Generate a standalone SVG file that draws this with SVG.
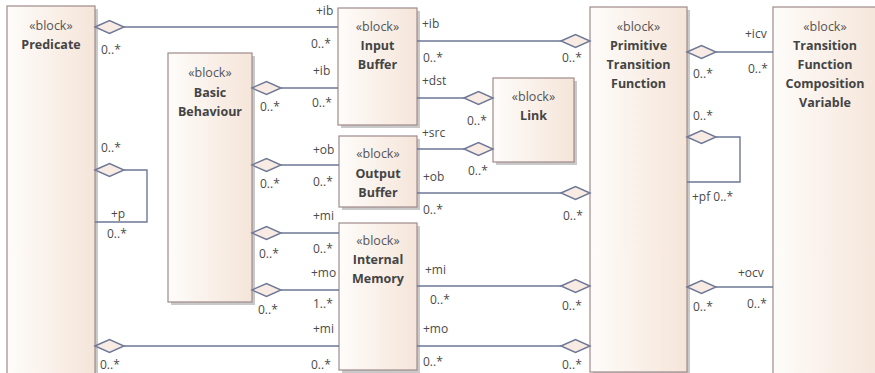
<svg xmlns="http://www.w3.org/2000/svg" width="875" height="373" viewBox="0 0 875 373">
<defs>
<linearGradient id="bg" x1="0" y1="0" x2="1" y2="0">
<stop offset="0" stop-color="#fefcfa"/>
<stop offset="1" stop-color="#f5e5d9"/>
</linearGradient>
<path id="dia" d="M0,0 L14.5,-6.5 L29,0 L14.5,6.5 Z"/>
</defs>
<style>
.blk{fill:url(#bg);stroke:#a08a8a;stroke-width:1.2}
.shd{fill:#c9c9c9}
.st{font-family:"Open Sans","Noto Sans",sans-serif;font-size:12.5px;fill:#555;text-anchor:middle}
.nm{font-family:"Open Sans","Noto Sans",sans-serif;font-size:12.5px;font-weight:bold;fill:#444;text-anchor:middle}
.lb{font-family:"Open Sans","Noto Sans",sans-serif;font-size:12px;fill:#4a4a4a}
.ln{fill:none;stroke:#6e7896;stroke-width:1.4}
.dm{fill:#f8ebe4;stroke:#6e7896;stroke-width:1.4}
</style>
<rect width="875" height="373" fill="#fff"/>

<g id="predicate">
<rect class="shd" x="10" y="9" width="88" height="380"/>
<rect class="blk" x="7" y="6" width="88" height="380"/>
<text class="st" x="51" y="30">«block»</text>
<text class="nm" x="51" y="49">Predicate</text>
</g>
<g id="basic-behaviour">
<rect class="shd" x="171" y="56" width="84" height="249"/>
<rect class="blk" x="168" y="53" width="84" height="249"/>
<text class="st" x="210" y="77">«block»</text>
<text class="nm" x="210" y="97">Basic</text>
<text class="nm" x="210" y="116">Behaviour</text>
</g>
<g id="input-buffer">
<rect class="shd" x="341" y="11" width="79" height="117"/>
<rect class="blk" x="338" y="8" width="79" height="117"/>
<text class="st" x="377.5" y="31">«block»</text>
<text class="nm" x="377.5" y="50">Input</text>
<text class="nm" x="377.5" y="69">Buffer</text>
</g>
<g id="link">
<rect class="shd" x="496" y="81" width="81" height="84"/>
<rect class="blk" x="493" y="78" width="81" height="84"/>
<text class="st" x="533.5" y="101">«block»</text>
<text class="nm" x="533.5" y="120">Link</text>
</g>
<g id="output-buffer">
<rect class="shd" x="342" y="139" width="78" height="71"/>
<rect class="blk" x="339" y="136" width="78" height="71"/>
<text class="st" x="378" y="158">«block»</text>
<text class="nm" x="378" y="178">Output</text>
<text class="nm" x="378" y="197">Buffer</text>
</g>
<g id="internal-memory">
<rect class="shd" x="342" y="226" width="78" height="147"/>
<rect class="blk" x="339" y="223" width="78" height="147"/>
<text class="st" x="378" y="245">«block»</text>
<text class="nm" x="378" y="264">Internal</text>
<text class="nm" x="378" y="283">Memory</text>
</g>
<g id="primitive-transition-function">
<rect class="shd" x="593" y="10" width="97" height="365"/>
<rect class="blk" x="590" y="7" width="97" height="365"/>
<text class="st" x="638.5" y="31">«block»</text>
<text class="nm" x="638.5" y="50">Primitive</text>
<text class="nm" x="638.5" y="69">Transition</text>
<text class="nm" x="638.5" y="88">Function</text>
</g>
<g id="transition-function-composition-variable">
<rect class="blk" x="773" y="7" width="110" height="380"/>
<text class="st" x="825" y="31">«block»</text>
<text class="nm" x="825" y="50">Transition</text>
<text class="nm" x="825" y="69">Function</text>
<text class="nm" x="825" y="88">Composition</text>
<text class="nm" x="825" y="107">Variable</text>
</g>

<g id="connectors">
<path class="ln" d="M124,27 H338 M281,88 H338 M417,41 H561 M417,98 H464 M417,149 H464 M281,165 H339 M417,193 H561 M281,233 H339 M281,290 H339 M124,346 H339 M417,286 H561 M417,346 H561 M124,170 H147 V222 H95 M716,52 H773 M716,137 H740 V182 H687 M716,287 H773"/>
<use href="#dia" class="dm" x="95" y="27"/>
<use href="#dia" class="dm" x="252" y="88"/>
<use href="#dia" class="dm" x="561" y="41"/>
<use href="#dia" class="dm" x="464" y="98"/>
<use href="#dia" class="dm" x="464" y="149"/>
<use href="#dia" class="dm" x="252" y="165"/>
<use href="#dia" class="dm" x="561" y="193"/>
<use href="#dia" class="dm" x="252" y="233"/>
<use href="#dia" class="dm" x="252" y="290"/>
<use href="#dia" class="dm" x="95" y="346"/>
<use href="#dia" class="dm" x="561" y="286"/>
<use href="#dia" class="dm" x="561" y="346"/>
<use href="#dia" class="dm" x="95" y="170"/>
<use href="#dia" class="dm" x="687" y="52"/>
<use href="#dia" class="dm" x="687" y="137"/>
<use href="#dia" class="dm" x="687" y="287"/>

<text class="lb" x="101" y="54">0..*</text>
<text class="lb" x="316" y="15">+ib</text>
<text class="lb" x="311" y="48">0..*</text>
<text class="lb" x="313" y="75">+ib</text>
<text class="lb" x="312" y="107">0..*</text>
<text class="lb" x="260" y="111">0..*</text>
<text class="lb" x="422" y="28">+ib</text>
<text class="lb" x="423" y="62">0..*</text>
<text class="lb" x="562" y="62">0..*</text>
<text class="lb" x="422" y="85">+dst</text>
<text class="lb" x="467" y="125">0..*</text>
<text class="lb" x="422" y="137">+src</text>
<text class="lb" x="468" y="175">0..*</text>
<text class="lb" x="313" y="154">+ob</text>
<text class="lb" x="313" y="186">0..*</text>
<text class="lb" x="260" y="188">0..*</text>
<text class="lb" x="423" y="181">+ob</text>
<text class="lb" x="423" y="214">0..*</text>
<text class="lb" x="563" y="220">0..*</text>
<text class="lb" x="313" y="220">+mi</text>
<text class="lb" x="313" y="253">0..*</text>
<text class="lb" x="259" y="258">0..*</text>
<text class="lb" x="311" y="277">+mo</text>
<text class="lb" x="313" y="308">1..*</text>
<text class="lb" x="258" y="314">0..*</text>
<text class="lb" x="313" y="333">+mi</text>
<text class="lb" x="311" y="369">0..*</text>
<text class="lb" x="100" y="369">0..*</text>
<text class="lb" x="425" y="274">+mi</text>
<text class="lb" x="430" y="304">0..*</text>
<text class="lb" x="562" y="310">0..*</text>
<text class="lb" x="423" y="333">+mo</text>
<text class="lb" x="423" y="366">0..*</text>
<text class="lb" x="562" y="369">0..*</text>
<text class="lb" x="101" y="152">0..*</text>
<text class="lb" x="111" y="218">+p</text>
<text class="lb" x="107" y="238">0..*</text>
<text class="lb" x="745" y="38">+icv</text>
<text class="lb" x="748" y="73">0..*</text>
<text class="lb" x="693" y="78">0..*</text>
<text class="lb" x="693" y="120">0..*</text>
<text class="lb" x="692" y="201">+pf 0..*</text>
<text class="lb" x="738" y="277">+ocv</text>
<text class="lb" x="747" y="308">0..*</text>
<text class="lb" x="693" y="311">0..*</text>
</g>
</svg>
